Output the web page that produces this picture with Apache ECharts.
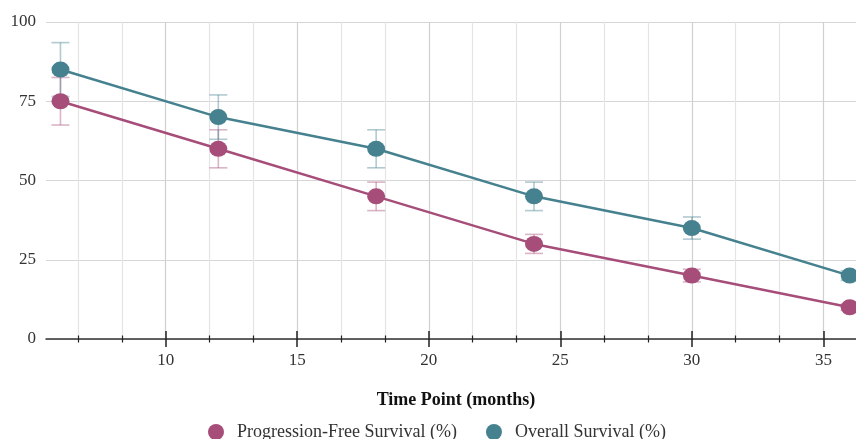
<!DOCTYPE html>
<html><head><meta charset="utf-8">
<script src="https://cdn.jsdelivr.net/npm/echarts@6/dist/echarts.min.js"></script>
<style>html,body{margin:0;padding:0;background:#fff}#c{width:856px;height:439px}</style>
</head><body><div id="c"></div>
<script>
const timePoints = [6, 12, 18, 24, 30, 36];
const pfsValues = [75, 60, 45, 30, 20, 10];
const pfsErrors = [7.5, 6, 4.5, 3, 2, 1];
const osValues = [85, 70, 60, 45, 35, 20];
const osErrors = [8.5, 7, 6, 4.5, 3.5, 1.5];
const xMajorTicks = [10, 15, 20, 25, 30, 35];
const xMinorTicks = [20/3, 25/3, 35/3, 40/3, 50/3, 55/3, 65/3, 70/3, 80/3, 85/3, 95/3, 100/3];
const yTicks = [0, 25, 50, 75, 100];
const seriesNames = ['Progression-Free Survival (%)', 'Overall Survival (%)'];
const xAxisName = 'Time Point (months)';

const FONT = '"Liberation Serif", "DejaVu Serif", serif';
const colors = ['#a64d79', '#45818e'];
const errColors = ['rgba(166,77,121,0.42)', 'rgba(69,129,142,0.42)'];
const ELLIPSE = 'path://M0,8 A9,8 0 1,1 18,8 A9,8 0 1,1 0,8 Z';

function errorSeries(name, values, errors, color) {
  return {
    type: 'custom', name: name, xAxisIndex: 0, yAxisIndex: 0, z: 1, silent: true,
    data: timePoints.map((t, i) => [t, values[i] - errors[i], values[i] + errors[i]]),
    encode: { x: 0, y: [1, 2] },
    renderItem: function (params, api) {
      const x = api.value(0);
      const lo = api.coord([x, api.value(1)]);
      const hi = api.coord([x, api.value(2)]);
      const w = 9;
      const style = { stroke: color, lineWidth: 1.6 };
      return { type: 'group', children: [
        { type: 'line', shape: { x1: lo[0], y1: lo[1], x2: hi[0], y2: hi[1] }, style: style },
        { type: 'line', shape: { x1: lo[0] - w, y1: lo[1], x2: lo[0] + w, y2: lo[1] }, style: style },
        { type: 'line', shape: { x1: hi[0] - w, y1: hi[1], x2: hi[0] + w, y2: hi[1] }, style: style }
      ]};
    }
  };
}
function lineSeries(name, values, color) {
  return {
    type: 'line', name: name, xAxisIndex: 0, yAxisIndex: 0, z: 3,
    data: timePoints.map((t, i) => [t, values[i]]),
    symbol: ELLIPSE, symbolSize: [18, 16], showAllSymbol: true,
    lineStyle: { width: 2.5, color: color },
    itemStyle: { color: color }
  };
}

const xBase = { type: 'value', min: 5.45, max: 36.24, position: 'bottom', gridIndex: 0 };
const chart = echarts.init(document.getElementById('c'), null, { renderer: 'canvas' });
chart.setOption({
  animation: false,
  backgroundColor: '#fff',
  grid: { left: 46, right: 0, top: 22, bottom: 100, containLabel: false, outerBoundsMode: 'none' },
  legend: {
    data: seriesNames, top: 418, left: 203, icon: 'circle', itemWidth: 32, itemHeight: 16, itemGap: 29,
    textStyle: { fontFamily: FONT, fontSize: 18, color: '#333' }
  },
  xAxis: [
    Object.assign({}, xBase, {
      axisLine: { show: true, onZero: false, lineStyle: { color: '#333', width: 1.5 } },
      axisTick: { show: false, customValues: xMajorTicks },
      axisLabel: { customValues: xMajorTicks, fontFamily: FONT, fontSize: 17, color: '#333', margin: 13 },
      splitLine: { show: true, lineStyle: { color: '#d0d0d0', width: 1.2 } },
      name: xAxisName, nameLocation: 'middle', nameGap: 52,
      nameTextStyle: { fontFamily: FONT, fontSize: 18, fontWeight: 'bold', color: '#111', padding: [0, 0, 0, 10] }
    }),
    Object.assign({}, xBase, {
      offset: -8,
      axisLine: { show: false },
      axisTick: { show: true, customValues: xMajorTicks, length: 16, lineStyle: { color: '#222', width: 1.5 } },
      axisLabel: { show: false },
      splitLine: { show: false }
    }),
    Object.assign({}, xBase, {
      offset: -3.5,
      axisLine: { show: false },
      axisTick: { show: true, customValues: xMinorTicks, length: 7, lineStyle: { color: '#222', width: 1.2 } },
      axisLabel: { show: false },
      splitLine: { show: true, lineStyle: { color: '#e4e4e4', width: 1.2 } }
    })
  ],
  yAxis: {
    type: 'value', min: yTicks[0], max: yTicks[yTicks.length - 1], interval: 25,
    axisLine: { show: false }, axisTick: { show: false },
    axisLabel: { fontFamily: FONT, fontSize: 17, color: '#333', margin: 10 },
    splitLine: { lineStyle: { color: '#d6d6d6', width: 1.2 } }
  },
  series: [
    lineSeries(seriesNames[0], pfsValues, colors[0]),
    lineSeries(seriesNames[1], osValues, colors[1]),
    errorSeries('PFS error', pfsValues, pfsErrors, errColors[0]),
    errorSeries('OS error', osValues, osErrors, errColors[1])
  ]
});
</script>
</body></html>
